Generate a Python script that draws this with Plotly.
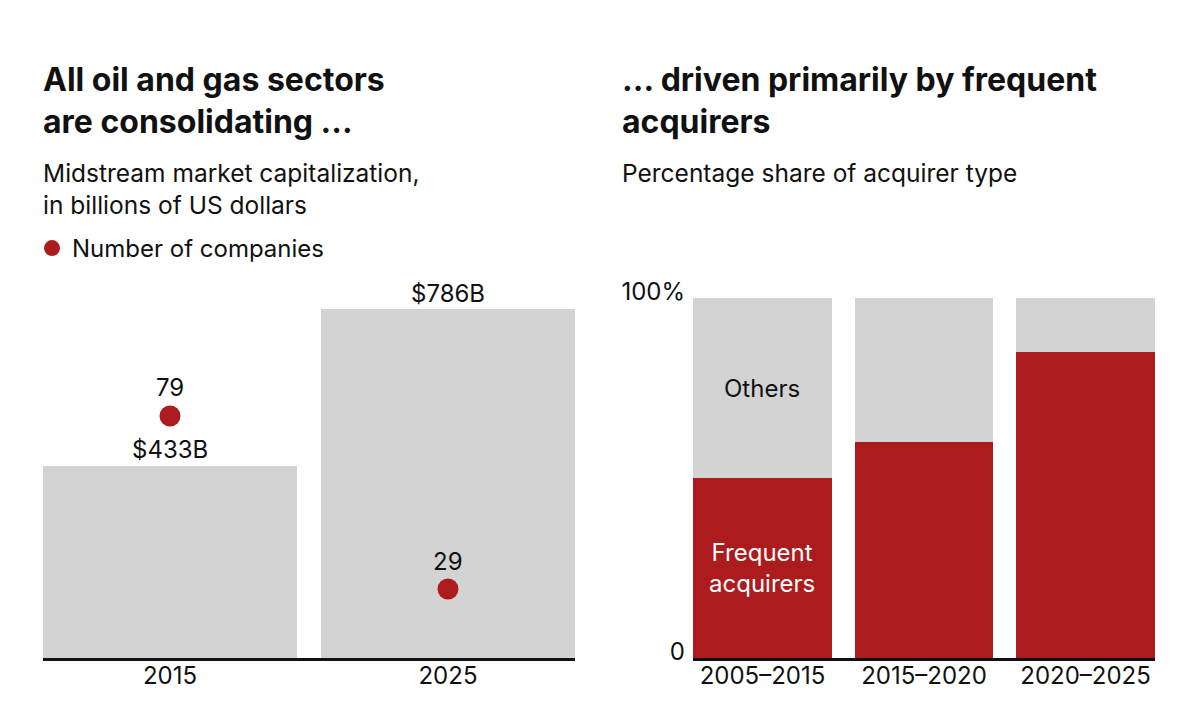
import plotly.graph_objects as go

# ---- Data ----
years = ["2015", "2025"]
market_cap = [433, 786]          # billions USD
market_cap_labels = ["$433B", "$786B"]
num_companies = [79, 29]

periods = ["2005–2015", "2015–2020", "2020–2025"]
frequent_share = [50, 60, 85]
others_share = [50, 40, 15]

RED = "#AC1B1D"
GRAY = "#D3D3D3"
INK = "#111111"
FONT = "Inter"
BODY = 24
TITLE = 32

W, H = 1200, 719
OFF = 8  # page body margin

def px_x(p):
    return (p - OFF) / W

def px_y(p):
    return 1 - (p - OFF) / H

fig = go.Figure()

fig.add_trace(go.Bar(
    x=years, y=market_cap, marker=dict(color=GRAY, line=dict(width=0)),
    xaxis="x", yaxis="y", showlegend=False, hoverinfo="skip", width=0.914,
))
fig.add_trace(go.Scatter(
    x=years, y=num_companies, mode="markers",
    marker=dict(color=RED, size=21, line=dict(width=0)),
    xaxis="x", yaxis="y2", name="Number of companies", showlegend=True,
    hoverinfo="skip",
))
fig.add_trace(go.Bar(
    x=periods, y=frequent_share, marker=dict(color=RED, line=dict(width=0)),
    xaxis="x3", yaxis="y3", showlegend=False, name="Frequent acquirers",
    hoverinfo="skip", width=0.86,
))
fig.add_trace(go.Bar(
    x=periods, y=others_share, marker=dict(color=GRAY, line=dict(width=0)),
    xaxis="x3", yaxis="y3", showlegend=False, name="Others",
    hoverinfo="skip", width=0.86,
))

annotations = []
# category axes: position by category index
for i, (v, lab) in enumerate(zip(market_cap, market_cap_labels)):
    annotations.append(dict(x=i, y=v, xref="x", yref="y", text=lab,
                            showarrow=False, yshift=16,
                            font=dict(family=FONT, size=BODY, color=INK)))
for i, n in enumerate(num_companies):
    annotations.append(dict(x=i, y=n, xref="x", yref="y2", text=str(n),
                            showarrow=False, yshift=28,
                            font=dict(family=FONT, size=BODY, color=INK)))
annotations.append(dict(x=0, y=frequent_share[0] + others_share[0] / 2,
                        xref="x3", yref="y3", text="Others", showarrow=False,
                        font=dict(family=FONT, size=BODY, color=INK)))
annotations.append(dict(x=0, y=frequent_share[0] / 2,
                        xref="x3", yref="y3", text="Frequent<br>acquirers",
                        showarrow=False,
                        font=dict(family=FONT, size=BODY, color="white")))

annotations.append(dict(x=px_x(41), y=px_y(58), xref="paper", yref="paper",
                        xanchor="left", yanchor="top", align="left",
                        text="<b>All oil and gas sectors<br>are consolidating ...</b>",
                        showarrow=False,
                        font=dict(family=FONT, size=TITLE, color=INK)))
annotations.append(dict(x=px_x(41), y=px_y(156), xref="paper", yref="paper",
                        xanchor="left", yanchor="top", align="left",
                        text="Midstream market capitalization,<br>in billions of US dollars",
                        showarrow=False,
                        font=dict(family=FONT, size=24.5, color=INK)))
annotations.append(dict(x=px_x(620), y=px_y(58), xref="paper", yref="paper",
                        xanchor="left", yanchor="top", align="left",
                        text="<b>... driven primarily by frequent<br>acquirers</b>",
                        showarrow=False,
                        font=dict(family=FONT, size=TITLE, color=INK)))
annotations.append(dict(x=px_x(620), y=px_y(156), xref="paper", yref="paper",
                        xanchor="left", yanchor="top", align="left",
                        text="Percentage share of acquirer type",
                        showarrow=False,
                        font=dict(family=FONT, size=24.5, color=INK)))

y_dom = [px_y(658), px_y(298)]

fig.update_layout(
    template="none",
    width=W, height=H, autosize=False,
    margin=dict(l=0, r=0, t=0, b=0, pad=0, autoexpand=False),
    paper_bgcolor="white", plot_bgcolor="white",
    barmode="stack",
    font=dict(family=FONT, size=BODY, color=INK),
    annotations=annotations,
    legend=dict(x=px_x(32), y=px_y(226), xanchor="left", yanchor="top",
                font=dict(family=FONT, size=BODY, color=INK),
                itemsizing="trace", itemwidth=30, bgcolor="rgba(0,0,0,0)",
                borderwidth=0),
    xaxis=dict(type="category", domain=[px_x(43), px_x(575)],
               range=[-0.457, 1.457],
               showgrid=False, zeroline=False, showline=True,
               linecolor=INK, linewidth=2.5, ticks="", automargin=False,
               ticklabelstandoff=-6,
               tickfont=dict(family=FONT, size=BODY, color=INK), fixedrange=True),
    yaxis=dict(domain=y_dom, range=[0, 786 * 360 / 349], visible=False,
               fixedrange=True, automargin=False),
    yaxis2=dict(overlaying="y", range=[9.06, 113.1], visible=False,
                fixedrange=True),
    xaxis3=dict(type="category", domain=[px_x(693), px_x(1155)],
                range=[-0.43, 2.43],
                anchor="y3", showgrid=False, zeroline=False, showline=True,
                linecolor=INK, linewidth=2.5, ticks="", automargin=False,
                ticklabelstandoff=-6,
                tickfont=dict(family=FONT, size=BODY, color=INK), fixedrange=True),
    yaxis3=dict(domain=y_dom, range=[0, 100], anchor="x3",
                tickvals=[0, 100], ticktext=["0", "100%"],
                showgrid=False, zeroline=False, showline=False, ticks="",
                automargin=False, ticklabelstandoff=7, ticklabelshift=-6,
                tickfont=dict(family=FONT, size=BODY, color=INK),
                fixedrange=True),
)

fig.write_html("out.html")
